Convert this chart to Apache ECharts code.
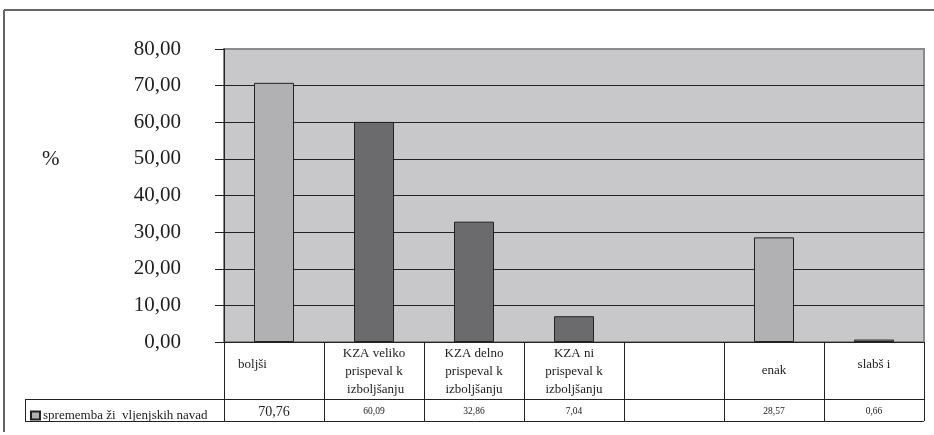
<!DOCTYPE html>
<html>
<head>
<meta charset="utf-8">
<script src="https://cdn.jsdelivr.net/npm/echarts@6/dist/echarts.min.js"></script>
<style>
  html, body { margin: 0; padding: 0; background: #ffffff; }
  #chart { width: 934px; height: 435px; }
</style>
</head>
<body>
<div id="chart"></div>
<script>
// Categories shown in the first table row under the plot
const categories = [
  'boljši',
  'KZA veliko\nprispeval k\n izboljšanju',
  'KZA delno\nprispeval k\nizboljšanju',
  'KZA ni\nprispeval k\nizboljšanju',
  '',
  'enak',
  'slabš i'
];
// Share of respondents (%) per category; the fifth column is empty
const values = [70.76, 60.09, 32.86, 7.04, null, 28.57, 0.66];
// Which bars are drawn in the darker tone
const darkBars = [false, true, true, true, false, false, false];
const seriesName = 'sprememba ži  vljenjskih navad';
const yTicks = [0, 10, 20, 30, 40, 50, 60, 70, 80];

const fmt = v => v.toFixed(2).replace('.', ',');
const serif = '"Liberation Serif", "DejaVu Serif", serif';

const LIGHT = '#b1b1b4';
const DARK = '#6b6b6e';
const INK = '#222222';

// per-label vertical placement inside the first table row
const labelPad = [[11, 43, 0, 0], [0, 0, 0, 0], [0, 0, 0, 0], [0, 0, 0, 0], [0, 0, 0, 0], [17, 0, 0, 0], [11, 0, 0, 0]];

const chart = echarts.init(document.getElementById('chart'), null, { renderer: 'canvas' });

chart.setOption({
  animation: false,
  backgroundColor: '#ffffff',
  title: {
    text: '%',
    left: 37, top: 144,
    textStyle: { fontFamily: serif, fontSize: 21, fontWeight: 'normal', color: INK }
  },
  legend: {
    data: [seriesName],
    left: 25, top: 404,
    itemWidth: 9, itemHeight: 8, itemGap: 4,
    icon: 'rect',
    textStyle: { fontFamily: serif, fontSize: 13, color: INK, padding: [0, 0, 0, -2] }
  },
  grid: {
    left: 224, right: 10, top: 49, bottom: 93,
    show: true,
    backgroundColor: '#c8c8ca',
    borderColor: '#8a8a8c',
    borderWidth: 2
  },
  xAxis: [
    {
      type: 'category',
      data: categories.map((c, i) => ({
        value: c,
        textStyle: { padding: labelPad[i] }
      })),
      position: 'bottom',
      axisLine: { show: true, lineStyle: { color: INK, width: 1 } },
      axisTick: { show: true, interval: 0, length: 79, lineStyle: { color: INK, width: 1 } },
      axisLabel: {
        interval: 0,
        margin: 3,
        fontFamily: serif,
        fontSize: 13,
        lineHeight: 18,
        verticalAlign: 'top',
        color: INK
      },
      splitLine: { show: false }
    },
    {
      // second table row: the values themselves
      type: 'category',
      data: values.map(v => (v === null ? '' : fmt(v))),
      position: 'bottom',
      offset: 57,
      axisLine: { show: false },
      axisTick: { show: false },
      axisLabel: {
        interval: 0,
        margin: 5,
        verticalAlign: 'top',
        color: INK,
        fontFamily: serif,
        formatter: (val, idx) => (idx === 0 ? '{big|' + val + '}' : '{small|' + val + '}'),
        rich: {
          big: { fontFamily: serif, fontSize: 14, color: INK, lineHeight: 16 },
          small: { fontFamily: serif, fontSize: 9.5, color: INK, lineHeight: 14 }
        }
      }
    }
  ],
  yAxis: {
    type: 'value',
    min: 0, max: 80, interval: 10,
    axisLine: { show: true, lineStyle: { color: INK, width: 1 } },
    axisTick: { show: true, length: 9, lineStyle: { color: INK } },
    axisLabel: {
      margin: 43,
      fontFamily: serif,
      fontSize: 21,
      color: INK,
      formatter: v => (yTicks.indexOf(v) >= 0 ? fmt(v) : '')
    },
    splitLine: {
      show: true,
      lineStyle: {
        color: ['#222', '#222', '#222', '#222', '#222', '#222', '#222', '#222', '#8a8a8c'],
        width: 1
      }
    }
  },
  series: [{
    name: seriesName,
    type: 'bar',
    xAxisIndex: 0,
    barWidth: 40,
    itemStyle: { color: LIGHT, borderColor: INK, borderWidth: 1 },
    data: values.map((v, i) => ({
      value: v === null ? '-' : v,
      itemStyle: { color: darkBars[i] ? DARK : LIGHT, borderColor: INK, borderWidth: 1 }
    }))
  }],
  graphic: [
    // outer frame (top and left edges)
    { type: 'line', shape: { x1: 4, y1: 10, x2: 934, y2: 10 }, style: { stroke: '#666', lineWidth: 2 } },
    { type: 'line', shape: { x1: 4, y1: 10, x2: 4, y2: 432 }, style: { stroke: '#666', lineWidth: 2 } },
    // table rules of the values row and the legend cell
    { type: 'line', shape: { x1: 25, y1: 399.5, x2: 924, y2: 399.5 }, style: { stroke: INK, lineWidth: 1 } },
    { type: 'line', shape: { x1: 25, y1: 421.5, x2: 924, y2: 421.5 }, style: { stroke: INK, lineWidth: 1 } },
    { type: 'line', shape: { x1: 25.5, y1: 399, x2: 25.5, y2: 422 }, style: { stroke: INK, lineWidth: 1 } }
  ]
});
</script>
</body>
</html>
